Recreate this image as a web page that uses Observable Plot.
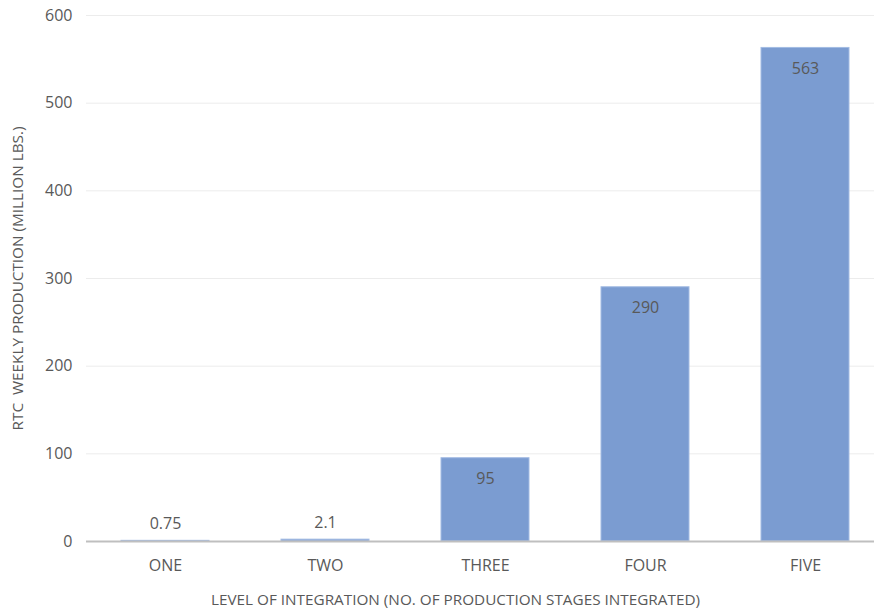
<!DOCTYPE html>
<html>
<head>
<meta charset="utf-8">
<script src="https://cdn.jsdelivr.net/npm/d3@7"></script>
<script src="https://cdn.jsdelivr.net/npm/@observablehq/plot@0.6"></script>
<style>
  html, body { margin: 0; padding: 0; background: #fff; }
  #chart svg { display: block; }
</style>
</head>
<body>
<div id="chart"></div>
<script>
const categories = ["ONE", "TWO", "THREE", "FOUR", "FIVE"];
const values = [0.75, 2.1, 95, 290, 563];
const labels = ["0.75", "2.1", "95", "290", "563"];
const yTicks = [0, 100, 200, 300, 400, 500, 600];
const xTitle = "LEVEL OF INTEGRATION (NO. OF PRODUCTION STAGES INTEGRATED)";
const yTitle = "RTC  WEEKLY PRODUCTION (MILLION LBS.)";

const data = categories.map((c, i) => ({cat: c, value: values[i], label: labels[i]}));
const inside = data.filter(d => d.value > 50);
const above = data.filter(d => d.value <= 50);

const font = "'Open Sans', sans-serif";
const textColor = "#595959";

const chart = Plot.plot({
  width: 874,
  height: 615,
  marginLeft: 86,
  marginRight: 0,
  marginTop: 15,
  marginBottom: 74,
  style: {fontFamily: font, fontSize: "16px", color: textColor, background: "#fff"},
  x: {domain: categories, range: [85, 885], paddingInner: 0.45, paddingOuter: 0.225},
  y: {domain: [0, 600]},
  marks: [
    Plot.ruleY(yTicks.filter(t => t > 0), {stroke: "#ececec", strokeWidth: 1}),
    Plot.barY(data, {x: "cat", y: "value", fill: "#7b9cd1", stroke: "#a3bbe3", strokeWidth: 1}),
    Plot.ruleY([0], {stroke: "#bfbfbf", strokeWidth: 2}),
    Plot.axisY({ticks: yTicks, tickSize: 0, tickPadding: 14, label: null, fontSize: 16, fill: textColor}),
    Plot.axisX({tickSize: 0, tickPadding: 18, label: null, fontSize: 16, fill: textColor}),
    Plot.text(inside, {x: "cat", y: "value", text: "label", dy: 21, fill: textColor, fontSize: 16}),
    Plot.text(above, {x: "cat", y: "value", text: "label", dy: -17, fill: textColor, fontSize: 16}),
    Plot.text([xTitle], {frameAnchor: "bottom", dy: 63, dx: -25, fill: textColor, fontSize: 15.3}),
    Plot.text([yTitle], {frameAnchor: "left", textAnchor: "middle", dx: -68, rotate: -90, fill: textColor, fontSize: 15.3})
  ]
});
document.getElementById("chart").appendChild(chart);
</script>
</body>
</html>
